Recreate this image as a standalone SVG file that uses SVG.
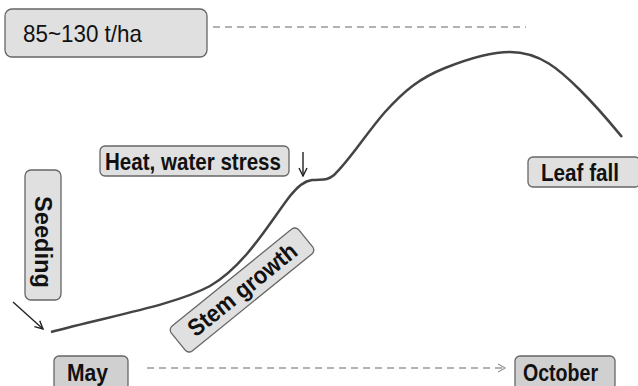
<svg xmlns="http://www.w3.org/2000/svg" width="638" height="386" viewBox="0 0 638 386">
<defs>
<style>
.box{fill:#e0e0e0;stroke:#666;stroke-width:1.3}
.lbl{font-family:"Liberation Sans",Arial,sans-serif;font-weight:bold;font-size:24px;fill:#111}
.reg{font-weight:normal}
.dash{stroke:#999;stroke-width:1.5;stroke-dasharray:7,5;fill:none}
</style>
<marker id="open" markerWidth="10" markerHeight="10" refX="8" refY="5" orient="auto" markerUnits="userSpaceOnUse">
<path d="M1,1 L8,5 L1,9" fill="none" stroke="#999" stroke-width="1.3"/>
</marker>
<marker id="blk" markerWidth="10" markerHeight="10" refX="9" refY="5" orient="auto" markerUnits="userSpaceOnUse">
<path d="M1,1 L9,5 L1,9" fill="none" stroke="#222" stroke-width="1.4"/>
</marker>
</defs>
<rect width="638" height="386" fill="#fff"/>
<g id="connectors">
<path id="curve" d="M51,332 C110,316 175,305 210,286 C245,266 270,222 290,196 C298,186 304,181 312,180 C322,179 327,181 334,175 C350,160 365,135 385,112 C405,90 420,78 445,68 C470,58 490,52 510,52 C540,52 560,70 580,90 C600,110 612,125 622,137" fill="none" stroke="#444" stroke-width="2.5"/>
<line x1="213" y1="27" x2="526" y2="27" class="dash"/>
<line x1="147" y1="368" x2="505" y2="368" class="dash" stroke-width="1.2" marker-end="url(#open)"/>
<line x1="303" y1="152" x2="303" y2="176" stroke="#222" stroke-width="1.4" marker-end="url(#blk)"/>
<line x1="13" y1="302" x2="43" y2="329" stroke="#222" stroke-width="1.4" marker-end="url(#blk)"/>
</g>
<g id="yield">
<rect class="box" x="5" y="9" width="202" height="48" rx="7"/>
<text class="lbl reg" x="23" y="42" textLength="119" lengthAdjust="spacingAndGlyphs">85~130 t/ha</text>
</g>
<g id="heat">
<rect class="box" x="100" y="146" width="189" height="30" rx="5"/>
<text class="lbl" x="105" y="170" textLength="176" lengthAdjust="spacingAndGlyphs">Heat, water stress</text>
</g>
<g id="seeding">
<rect class="box" x="25" y="170" width="36" height="130" rx="6"/>
<text class="lbl" x="-46" y="0" transform="translate(35,242) rotate(90)" textLength="92" lengthAdjust="spacingAndGlyphs">Seeding</text>
</g>
<g id="stem">
<g transform="translate(242,290) rotate(-39)">
<rect class="box" x="-82" y="-16" width="164" height="32" rx="5"/>
<text class="lbl" x="-66" y="8" textLength="133" lengthAdjust="spacingAndGlyphs">Stem growth</text>
</g>
</g>
<g id="leaffall">
<rect class="box" x="528" y="157" width="112" height="30" rx="5"/>
<text class="lbl" x="541" y="181" textLength="78" lengthAdjust="spacingAndGlyphs">Leaf fall</text>
</g>
<g id="may">
<rect class="box" x="54" y="356" width="74" height="34" rx="5" style="fill:#d0d0d0"/>
<text class="lbl" x="67" y="381" textLength="41" lengthAdjust="spacingAndGlyphs">May</text>
</g>
<g id="october">
<rect class="box" x="515" y="356" width="100" height="34" rx="5" style="fill:#d0d0d0"/>
<text class="lbl" x="523" y="381" textLength="75" lengthAdjust="spacingAndGlyphs">October</text>
</g>
</svg>
